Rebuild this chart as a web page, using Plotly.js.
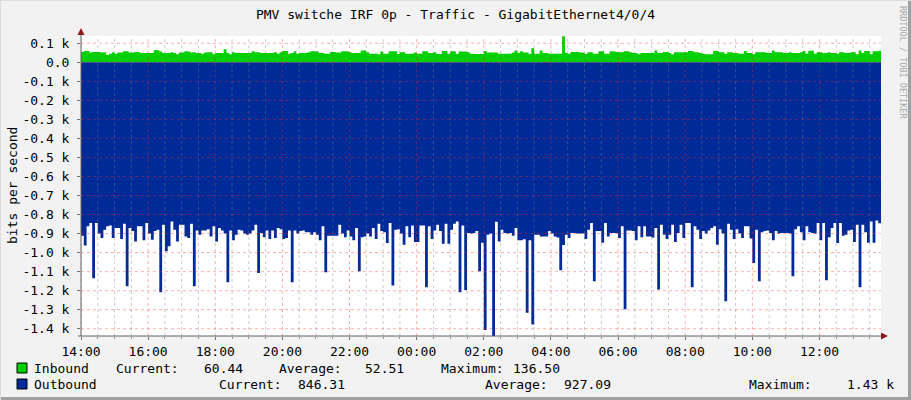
<!DOCTYPE html>
<html>
<head>
<meta charset="utf-8">
<script src="https://cdn.plot.ly/plotly-3.0.1.min.js"></script>
<style>
html, body { margin: 0; padding: 0; background: #f2f2f2; }
</style>
</head>
<body>
<div id="chart" style="width:911px;height:400px"></div>
<script>
// 5 minute samples starting 14:00 (bits per second)
var inbound = [
    54,59,59,51,54,54,54,51,52,38,
    45,52,45,51,51,58,58,51,51,54,
    54,49,49,49,49,49,65,63,56,49,
    49,49,52,49,42,51,51,58,57,51,
    52,49,49,45,51,52,52,42,49,49,
    49,68,49,42,52,49,49,49,49,49,
    49,58,52,52,49,49,49,49,49,52,
    45,52,59,59,45,49,58,45,49,49,
    49,52,58,58,57,49,49,45,45,54,
    54,51,51,58,58,57,51,49,49,49,
    62,62,52,45,45,45,42,56,45,45,
    58,58,58,44,52,52,44,45,45,51,
    45,45,58,58,49,49,52,44,44,59,
    59,45,58,58,44,56,56,56,52,45,
    45,44,44,44,59,51,51,51,51,45,
    45,45,45,45,51,62,49,58,51,51,
    44,73,45,45,62,49,49,45,45,45,
    45,45,136.5,49,45,54,54,54,51,51,
    44,52,52,45,45,58,58,45,45,58,
    58,54,52,52,58,58,52,49,49,42,
    49,49,49,49,49,62,49,49,54,54,
    49,42,52,52,52,52,52,59,59,52,
    52,49,45,42,42,42,59,59,52,52,
    44,52,52,49,49,45,45,59,49,49,
    42,52,52,52,52,49,49,62,52,52,
    52,49,49,52,49,49,49,52,59,45,
    61,61,45,52,52,49,49,52,49,49,
    45,52,52,49,49,52,52,42,62,49,
    59,59,42,58,58,60.44
];

var outbound = [
    912,962,862,845,1134,845,900,923,880,862,
    858,923,871,871,928,848,1176,871,887,941,
    862,862,935,845,900,932,887,880,1208,853,
    993,967,836,880,941,853,853,915,923,848,
    1176,884,906,884,884,877,915,862,941,871,
    884,900,1155,884,935,906,880,884,900,906,
    900,884,853,1107,897,919,884,928,884,923,
    871,877,928,923,884,1155,884,900,887,884,
    893,893,906,893,906,935,862,1103,912,912,
    912,912,853,900,919,884,915,935,871,1098,
    919,915,900,915,871,928,848,887,893,949,
    845,1173,880,877,900,959,862,919,858,944,
    944,858,858,1182,862,928,884,853,887,953,
    848,953,880,848,836,1208,858,1197,897,900,
    897,887,1098,948,1407,906,900,1438,838,941,
    880,897,900,897,912,870,935,935,930,1316,
    935,1377,906,906,915,915,915,887,900,915,
    920,1093,960,906,923,897,897,900,900,900,
    928,880,845,1150,887,887,948,845,915,897,
    897,897,923,862,1298,884,884,887,935,862,
    919,862,915,915,920,871,1194,853,906,928,
    906,853,944,897,853,923,845,845,1182,862,
    880,928,887,900,884,871,862,958,877,900,
    1255,848,880,928,877,900,923,862,862,926,
    1054,880,1150,893,887,884,897,935,887,900,
    897,897,897,900,1124,877,862,893,935,862,
    893,897,900,845,935,845,1145,919,871,845,
    949,845,912,906,884,880,944,853,1182,853,
    893,948,836,948,831,846.31
];

var yTickVals = [100,0,-100,-200,-300,-400,-500,-600,-700,-800,-900,-1000,-1100,-1200,-1300,-1400];
var yTickText = ["0.1 k","0.0","-0.1 k","-0.2 k","-0.3 k","-0.4 k","-0.5 k","-0.6 k","-0.7 k",
                 "-0.8 k","-0.9 k","-1.0 k","-1.1 k","-1.2 k","-1.3 k","-1.4 k"];

var legendRows = [
    {name: "Inbound",  color: "#00cf00", cur: "60.44",  avg: "52.51",  max: "136.50"},
    {name: "Outbound", color: "#002a97", cur: "846.31", avg: "927.09", max: "1.43 k"}
];

const FONT = "DejaVu Sans Mono, monospace";
const START = Date.UTC(2024, 4, 6, 14, 0, 0);
const STEP = 5 * 60 * 1000;
const END = START + inbound.length * STEP;

function fmt(ms) {
    return new Date(ms).toISOString().slice(0, 19).replace('T', ' ');
}

// pixel helpers (plot area is 81..881 x 36..336)
function px(x) { return (x - 81) / 800; }
function py(y) { return (336 - y) / 300; }

var times = inbound.map((_, i) => fmt(START + i * STEP));
times.push(fmt(END));
var inY = inbound.slice();
inY.push(inbound[inbound.length - 1]);
var outY = outbound.map(v => -v); // outbound drawn below zero
outY.push(outY[outY.length - 1]);

var traces = [
    {
        x: times, y: inY, type: 'scatter', mode: 'lines',
        line: {shape: 'hv', width: 0, color: '#00cf00'},
        fill: 'tozeroy', fillcolor: '#00cf00', hoverinfo: 'skip'
    },
    {
        x: times, y: outY, type: 'scatter', mode: 'lines',
        line: {shape: 'hv', width: 0, color: '#002a97'},
        fill: 'tozeroy', fillcolor: '#002a97', hoverinfo: 'skip'
    }
];

// grid drawn above the areas like rrdtool does
var shapes = [];
for (let t = START; t <= END; t += 30 * 60 * 1000) {
    const major = (t - START) % (2 * 3600 * 1000) === 0;
    shapes.push({
        type: 'line', layer: 'above', xref: 'x', yref: 'paper',
        x0: fmt(t), x1: fmt(t), y0: 0, y1: 1,
        line: {color: major ? 'rgba(255,40,40,0.38)' : 'rgba(130,130,130,0.42)', width: 1, dash: 'dot'}
    });
}
yTickVals.forEach(v => {
    shapes.push({
        type: 'line', layer: 'above', xref: 'paper', yref: 'y',
        x0: 0, x1: 1, y0: v, y1: v,
        line: {color: 'rgba(255,40,40,0.38)', width: 1, dash: 'dot'}
    });
});

// axes with arrows
shapes.push({type: 'line', layer: 'above', xref: 'paper', yref: 'paper',
    x0: 0, x1: 0, y0: 0, y1: py(31), line: {color: '#606060', width: 1}});
shapes.push({type: 'line', layer: 'above', xref: 'paper', yref: 'paper',
    x0: px(78), x1: px(884), y0: 0, y1: 0, line: {color: '#606060', width: 1}});
shapes.push({type: 'path', layer: 'above', xref: 'paper', yref: 'paper',
    path: `M ${px(77.5)} ${py(35)} L ${px(84.5)} ${py(35)} L ${px(81)} ${py(28)} Z`,
    fillcolor: '#8b1a1a', line: {width: 0}});
shapes.push({type: 'path', layer: 'above', xref: 'paper', yref: 'paper',
    path: `M ${px(881)} ${py(332.5)} L ${px(881)} ${py(339.5)} L ${px(888)} ${py(336)} Z`,
    fillcolor: '#8b1a1a', line: {width: 0}});

// frame around the image
shapes.push({type: 'line', xref: 'paper', yref: 'paper', x0: px(0), x1: px(911), y0: py(398.5), y1: py(398.5),
    line: {color: '#a0a0a0', width: 3}});
shapes.push({type: 'line', xref: 'paper', yref: 'paper', x0: px(909.5), x1: px(909.5), y0: py(0), y1: py(400),
    line: {color: '#a0a0a0', width: 3}});
shapes.push({type: 'line', xref: 'paper', yref: 'paper', x0: px(0), x1: px(911), y0: py(0.5), y1: py(0.5),
    line: {color: '#dcdcdc', width: 1}});
shapes.push({type: 'line', xref: 'paper', yref: 'paper', x0: px(0.5), x1: px(0.5), y0: py(0), y1: py(400),
    line: {color: '#dcdcdc', width: 1}});

var annotations = [
    {text: 'bits per second', x: px(12), y: py(186), textangle: -90,
     xanchor: 'center', yanchor: 'middle',
     font: {size: 13, color: '#000'}},
    {text: 'RRDTOOL / TOBI OETIKER', x: px(903), y: py(62), textangle: 90,
     xanchor: 'center', yanchor: 'middle',
     font: {size: 8.5, color: '#a8a8a8'}}
];

var legendCols = [
    [{key: 'name', x: 34}, {key: 'Current:', x: 116}, {key: 'cur', x: 204}, {key: 'Average:', x: 279},
     {key: 'avg', x: 365}, {key: 'Maximum:', x: 441}, {key: 'max', x: 513}],
    [{key: 'name', x: 34}, {key: 'Current:', x: 219}, {key: 'cur', x: 298}, {key: 'Average:', x: 485},
     {key: 'avg', x: 564}, {key: 'Maximum:', x: 749}, {key: 'max', x: 847}]
];
legendRows.forEach((row, r) => {
    const cy = r === 0 ? 368 : 384;
    shapes.push({type: 'rect', xref: 'paper', yref: 'paper',
        x0: px(17), x1: px(27), y0: py(cy - 5), y1: py(cy + 5),
        fillcolor: row.color, line: {color: '#000', width: 1}});
    legendCols[r].forEach(col => {
        annotations.push({
            text: row[col.key] !== undefined ? row[col.key] : col.key,
            x: px(col.x - 2), y: py(cy), xanchor: 'left', yanchor: 'middle',
            font: {size: 13, color: '#000'}
        });
    });
});
annotations.forEach(a => {
    a.xref = 'paper'; a.yref = 'paper'; a.showarrow = false;
});

var layout = {
    width: 911, height: 400,
    margin: {l: 81, r: 30, t: 36, b: 64},
    paper_bgcolor: '#f2f2f2',
    plot_bgcolor: '#ffffff',
    font: {family: FONT, size: 13, color: '#000'},
    showlegend: false,
    title: {
        text: 'PMV switche IRF 0p - Traffic - GigabitEthernet4/0/4',
        xref: 'container', x: 0.5, y: 1 - 14 / 400, yanchor: 'middle', xanchor: 'center',
        font: {family: FONT, size: 13, color: '#000'}
    },
    xaxis: {
        type: 'date',
        range: [fmt(START), fmt(END)],
        tick0: fmt(START), dtick: 2 * 3600 * 1000,
        tickformat: '%H:%M',
        showgrid: false, zeroline: false, showline: false,
        ticks: 'outside', ticklen: 3, tickcolor: '#707070',
        minor: {dtick: 30 * 60 * 1000, ticks: 'outside', ticklen: 2, tickcolor: '#909090', showgrid: false},
        tickfont: {family: FONT, size: 13, color: '#000'},
        fixedrange: true
    },
    yaxis: {
        range: [-1438, 138],
        tickvals: yTickVals, ticktext: yTickText,
        showgrid: false, zeroline: false, showline: false,
        ticks: 'outside', ticklen: 3, tickcolor: '#707070',
        ticklabelstandoff: 5,
        tickfont: {family: FONT, size: 13, color: '#000'},
        fixedrange: true
    },
    shapes: shapes,
    annotations: annotations
};

Plotly.newPlot('chart', traces, layout, {displayModeBar: false, staticPlot: true});
</script>
</body>
</html>
